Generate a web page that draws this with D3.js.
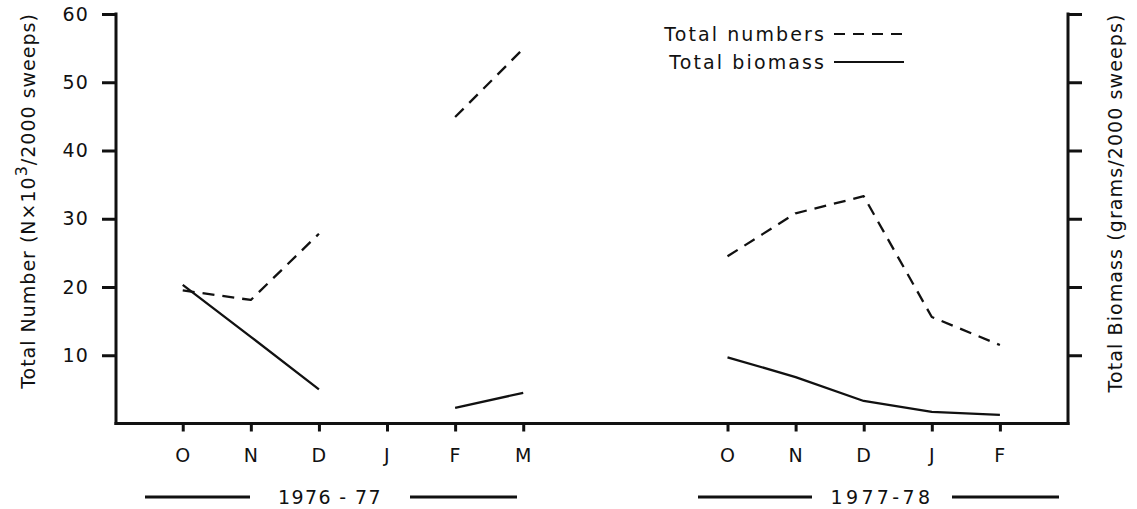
<!DOCTYPE html>
<html>
<head>
<meta charset="utf-8">
<script src="https://cdn.jsdelivr.net/npm/d3@7"></script>
<style>
  html, body { margin: 0; padding: 0; background: #fff; }
  svg { display: block; }
  text { font-family: "DejaVu Sans", "Liberation Sans", sans-serif; fill: #111; }
</style>
</head>
<body>
<svg id="chart" width="1137" height="509"></svg>
<script>
// ---- data ----
const monthLabels1 = ["O", "N", "D", "J", "F", "M"];
const monthIndex1  = [0, 1, 2, 3, 4, 5];
const monthLabels2 = ["O", "N", "D", "J", "F"];
const monthIndex2  = [8, 9, 10, 11, 12];
const numbers1 = [19.5, 18.1, 27.8, null, 44.9, 54.9];   // N x 10^3 / 2000 sweeps
const biomass1 = [20.3, 12.7, 5.0, null, 2.3, 4.5];      // right-axis units
const numbers2 = [24.5, 30.8, 33.3, 15.6, 11.5];
const biomass2 = [9.7, 6.8, 3.3, 1.7, 1.25];
const yTicks = [10, 20, 30, 40, 50, 60];
const seasonLabels = ["1976 - 77", "1977-78"];
const legendLabels = ["Total numbers", "Total biomass"];

// ---- layout ----
const svg = d3.select("#chart");
const x = d3.scaleLinear().domain([-0.98, 13]).range([116, 1068]);
const y = d3.scaleLinear().domain([0, 60]).range([423.5, 14]);
const yR = d3.scaleLinear().domain([0, 60]).range([423.5, 14]);
const FONT = 19;
const FAM = "DejaVu Sans, Liberation Sans, sans-serif";

// axes
const gL = svg.append("g").attr("transform", `translate(${x.range()[0]},0)`)
  .call(d3.axisLeft(y).tickValues(yTicks).tickSize(14).tickSizeOuter(0).tickPadding(13));
const gR = svg.append("g").attr("transform", `translate(${x.range()[1]},0)`)
  .call(d3.axisRight(yR).tickValues(yTicks).tickSize(14).tickSizeOuter(0).tickFormat(""));
const allIdx = monthIndex1.concat(monthIndex2);
const allLab = monthLabels1.concat(monthLabels2);
const gB = svg.append("g").attr("transform", `translate(0,${y(0)})`)
  .call(d3.axisBottom(x).tickValues(allIdx).tickSize(8).tickSizeOuter(0).tickPadding(17)
        .tickFormat((d) => allLab[allIdx.indexOf(d)]));

[gL, gR, gB].forEach(g => {
  g.attr("font-family", FAM).attr("font-size", FONT);
  g.select(".domain").attr("stroke", "#111").attr("stroke-width", 3).attr("stroke-linecap", "square");
  g.selectAll(".tick line").attr("stroke", "#111").attr("stroke-width", 3);
  g.selectAll(".tick text").attr("font-size", FONT).attr("fill", "#111")
    .attr("font-family", FAM).style("letter-spacing", "1.2px");
});
gL.select(".domain").attr("d", `M0,${y(60)}V${y(0)}`);
gR.select(".domain").attr("d", `M0,${y(60)}V${y(0)}`);
gB.select(".domain").attr("d", `M${x.range()[0]},0H${x.range()[1]}`);

// axis titles
const tL = svg.append("text").attr("transform", `translate(35,201) rotate(-90)`)
  .attr("text-anchor", "middle").attr("font-size", FONT).style("letter-spacing", "1px");
tL.append("tspan").text("Total Number (N×10");
tL.append("tspan").attr("dy", -8).attr("font-size", 16).text("3");
tL.append("tspan").attr("dy", 8).text("/2000 sweeps)");
svg.append("text").attr("transform", `translate(1122,203) rotate(-90)`)
  .attr("text-anchor", "middle").attr("font-size", FONT).style("letter-spacing", "1.1px")
  .text("Total Biomass (grams/2000 sweeps)");

// lines
const line = d3.line().defined(d => d.v !== null).x(d => x(d.i)).y(d => d.s(d.v));
function series(idx, vals, s) { return idx.map((i, k) => ({ i, v: vals[k], s })); }
const plotLine = (data, dashed) => svg.append("path").datum(data)
  .attr("d", line).attr("fill", "none").attr("stroke", "#111").attr("stroke-width", 2.3)
  .attr("stroke-dasharray", dashed ? "12,8" : null).attr("stroke-linejoin", "round");
plotLine(series(monthIndex1, numbers1, y), true);
plotLine(series(monthIndex2, numbers2, y), true);
plotLine(series(monthIndex1, biomass1, yR), false);
plotLine(series(monthIndex2, biomass2, yR), false);

// season labels with bars
const seasons = [
  { label: seasonLabels[0], l: [145, 250], r: [410, 517], ls: "1.4px" },
  { label: seasonLabels[1], l: [698, 812], r: [952, 1059], ls: "3.4px" }
];
seasons.forEach(s => {
  svg.append("text").attr("x", (s.l[1] + s.r[0]) / 2).attr("y", 504).attr("text-anchor", "middle")
    .attr("font-size", FONT).style("letter-spacing", s.ls).text(s.label);
  [s.l, s.r].forEach(seg => svg.append("line").attr("x1", seg[0]).attr("x2", seg[1])
    .attr("y1", 497).attr("y2", 497).attr("stroke", "#111").attr("stroke-width", 3));
});

// legend
const lg = svg.append("g");
legendLabels.forEach((t, k) => {
  const yy = 34 + k * 28;
  lg.append("text").attr("x", 826).attr("y", yy + 7).attr("text-anchor", "end")
    .attr("font-size", FONT).style("letter-spacing", "2.1px").text(t);
  lg.append("line").attr("x1", 834).attr("x2", 904).attr("y1", yy).attr("y2", yy)
    .attr("stroke", "#111").attr("stroke-width", 2)
    .attr("stroke-dasharray", k === 0 ? "11,8" : null);
});
</script>
</body>
</html>
